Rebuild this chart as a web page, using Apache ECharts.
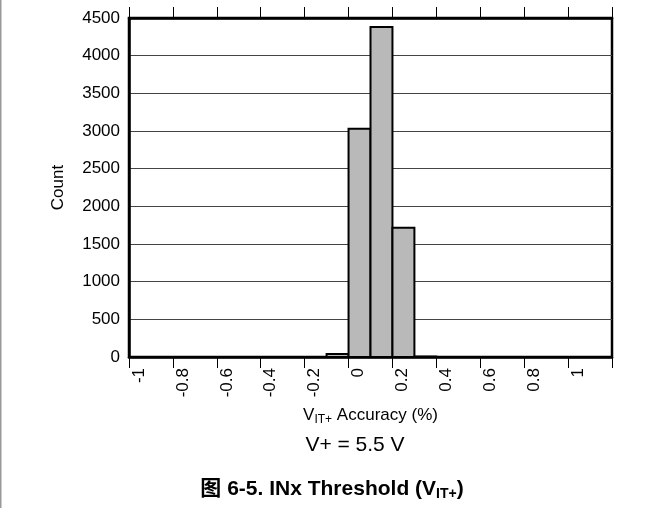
<!DOCTYPE html>
<html>
<head>
<meta charset="utf-8">
<script src="https://cdn.jsdelivr.net/npm/echarts@6/dist/echarts.min.js"></script>
<style>
html,body{margin:0;padding:0;background:#fff;}
#c{width:663px;height:508px;}
</style>
</head>
<body>
<div id="c"></div>
<script>
// Data
var binStarts = [-0.1, 0.0, 0.1, 0.2, 0.3];
var binWidth = 0.1;
var counts = [40, 3030, 4380, 1715, 6];
var xTickLabels = ['-1', '-0.8', '-0.6', '-0.4', '-0.2', '0', '0.2', '0.4', '0.6', '0.8', '1', ''];
var yTicks = [0, 500, 1000, 1500, 2000, 2500, 3000, 3500, 4000, 4500];

var chart = echarts.init(document.getElementById('c'));
var FONT = 'Liberation Sans, Arial, sans-serif';
var CJK = 'Liberation Sans, Noto Sans CJK SC, sans-serif';

var barData = binStarts.map(function (s, i) { return [s, s + binWidth, counts[i]]; });

var option = {
  animation: false,
  grid: { left: 129, right: 51, top: 18, bottom: 151, show: true, borderColor: '#000', borderWidth: 2.5, backgroundColor: 'transparent' },
  xAxis: [
    {
      type: 'value', min: -1, max: 1.2, interval: 0.2,
      position: 'bottom',
      axisLine: { show: true, onZero: false, lineStyle: { color: '#000', width: 2.5 } },
      axisTick: { show: true, inside: false, length: 11, lineStyle: { color: '#000', width: 1 } },
      splitLine: { show: false },
      axisLabel: {
        rotate: 90, fontSize: 17, fontFamily: FONT, color: '#000', margin: 11,
        verticalAlign: 'top', lineHeight: 20,
        formatter: function (v) {
          var idx = Math.round((v + 1) / 0.2);
          return xTickLabels[idx] !== undefined ? xTickLabels[idx] : '';
        }
      },
      name: '{n|V}{s|IT+}{n| Accuracy (%)}',
      nameLocation: 'middle', nameGap: 48,
      nameTextStyle: {
        rich: {
          n: { fontSize: 17, fontFamily: FONT, color: '#000' },
          s: { fontSize: 12, fontFamily: FONT, color: '#000', verticalAlign: 'bottom', padding: [9, 0, 0, 0] }
        }
      }
    },
    {
      type: 'value', min: -1, max: 1.2, interval: 0.2,
      position: 'top',
      axisLine: { show: true, onZero: false, lineStyle: { color: '#000', width: 2.5 } },
      axisTick: { show: true, inside: false, length: 11, lineStyle: { color: '#000', width: 1 } },
      splitLine: { show: false },
      axisLabel: { show: false }
    }
  ],
  yAxis: {
    type: 'value', min: 0, max: 4500, interval: 500,
    axisLine: { show: true, onZero: false, lineStyle: { color: '#000', width: 2.5 } },
    axisTick: { show: false },
    splitLine: { show: true, lineStyle: { color: '#444', width: 1 } },
    axisLabel: {
      fontSize: 17, fontFamily: FONT, color: '#000', margin: 9,
      formatter: function (v) { return yTicks.indexOf(v) >= 0 ? String(v) : ''; }
    },
    name: 'Count', nameLocation: 'middle', nameGap: 62,
    nameTextStyle: { fontSize: 17, fontFamily: FONT, color: '#000' }
  },
  series: [{
    type: 'custom',
    xAxisIndex: 0,
    renderItem: function (params, api) {
      var p0 = api.coord([api.value(0), api.value(2)]);
      var p1 = api.coord([api.value(1), 0]);
      return {
        type: 'rect',
        shape: { x: p0[0], y: p0[1], width: p1[0] - p0[0], height: p1[1] - p0[1] },
        style: { fill: '#b9b9b9', stroke: '#000', lineWidth: 2 }
      };
    },
    encode: { x: [0, 1], y: 2 },
    data: barData,
    z: 3
  }],
  graphic: [
    { type: 'rect', left: 0, top: 0, shape: { width: 1.5, height: 508 }, style: { fill: '#999' } },
    {
      type: 'text', x: 355, y: 445,
      style: { text: 'V+ = 5.5 V', font: '21px ' + FONT, fill: '#000', textAlign: 'center', textVerticalAlign: 'middle' }
    },
    {
      type: 'text', x: 332, y: 489,
      style: {
        text: '{b|图 6-5. INx Threshold (V}{bs|IT+}{b|)}',
        textAlign: 'center', textVerticalAlign: 'middle',
        rich: {
          b: { fontSize: 21, fontWeight: 'bold', fontFamily: CJK, color: '#000' },
          bs: { fontSize: 14, fontWeight: 'bold', fontFamily: CJK, color: '#000', verticalAlign: 'bottom', padding: [11, 0, 0, 0] }
        }
      }
    }
  ]
};
chart.setOption(option);
</script>
</body>
</html>
